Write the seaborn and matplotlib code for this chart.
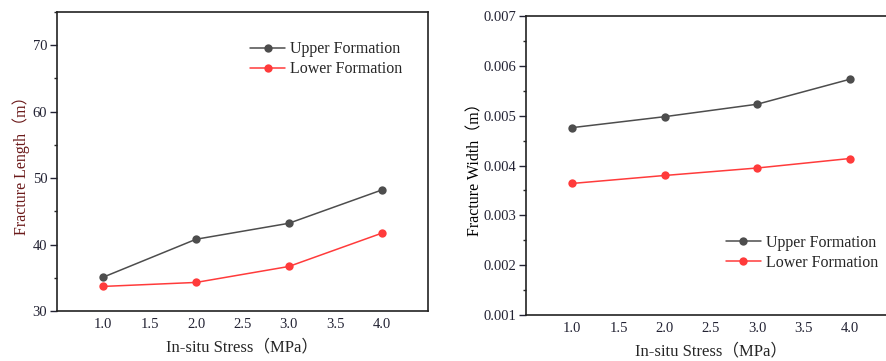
import numpy as np
import pandas as pd
import seaborn as sns
import matplotlib.pyplot as plt
from matplotlib.ticker import MultipleLocator

stress = [1.0, 2.0, 3.0, 4.0]
length_upper = [35.1, 40.8, 43.2, 48.2]
length_lower = [33.7, 34.3, 36.7, 41.7]
width_upper = [0.00476, 0.00498, 0.00523, 0.00573]
width_lower = [0.00364, 0.00380, 0.00395, 0.00414]
series = ['Upper Formation', 'Lower Formation']

sns.set_style('ticks')
plt.rcParams['font.family'] = ['Liberation Serif', 'Noto Sans CJK SC', 'DejaVu Sans']

def long_df(up, low):
    return pd.DataFrame({
        'x': stress * 2,
        'y': up + low,
        'series': [series[0]] * 4 + [series[1]] * 4,
    })

palette = {'Upper Formation': '#4d4d4d', 'Lower Formation': '#ff3b3b'}

fig = plt.figure(figsize=(8.86, 3.61), dpi=100)
ax1 = fig.add_axes([0.0643, 0.1385, 0.4187, 0.8283])
ax2 = fig.add_axes([0.5937, 0.1274, 0.4176, 0.8283])

sns.lineplot(data=long_df(length_upper, length_lower), x='x', y='y', hue='series',
             palette=palette, marker='o', markersize=6, markeredgewidth=0,
             linewidth=1.1, ax=ax1)
sns.lineplot(data=long_df(width_upper, width_lower), x='x', y='y', hue='series',
             palette=palette, marker='o', markersize=6, markeredgewidth=0,
             linewidth=1.1, ax=ax2)

ax1.set_ylim(30, 75)
ax1.yaxis.set_major_locator(MultipleLocator(10))
ax1.yaxis.set_minor_locator(MultipleLocator(5))
ax1.set_ylabel('Fracture Length（m）', fontsize=11.5, color='#6b1a1a')
ax1.yaxis.set_label_coords(-0.072, 0.5)

ax2.set_ylim(0.001, 0.007)
ax2.yaxis.set_major_locator(MultipleLocator(0.001))
ax2.yaxis.set_minor_locator(MultipleLocator(0.0005))
ax2.set_ylabel('Fracture Width（m）', fontsize=11.5, color='black')
ax2.yaxis.set_label_coords(-0.115, 0.5)
ax2.yaxis.set_major_formatter(plt.FormatStrFormatter('%.3f'))

for ax in (ax1, ax2):
    ax.set_xlim(0.5, 4.5)
    ax.set_xticks([1.0, 1.5, 2.0, 2.5, 3.0, 3.5, 4.0])
    ax.set_xticklabels(['1.0', '1.5', '2.0', '2.5', '3.0', '3.5', '4.0'])
    ax.set_xlabel('In-situ Stress（MPa）', fontsize=12, labelpad=6)
    ax.tick_params(axis='x', length=0, labelsize=10.5, colors='#222233', pad=5)
    ax.tick_params(axis='y', which='major', length=5, width=1, labelsize=10.5,
                   colors='#222233', direction='out', pad=2)
    ax.tick_params(axis='y', which='minor', length=2, width=1, direction='out')
    for s in ax.spines.values():
        s.set_visible(True)
        s.set_linewidth(1.2)
        s.set_color('#222222')

ax1.legend(title=None, loc='upper right', bbox_to_anchor=(0.97, 0.95), frameon=False,
           fontsize=11.5, handlelength=2.2, handletextpad=0.3, labelspacing=0.25)
ax2.legend(title=None, loc='lower right', bbox_to_anchor=(0.99, 0.1), frameon=False,
           fontsize=11.5, handlelength=2.2, handletextpad=0.3, labelspacing=0.25)

fig.savefig('out.png', dpi=100)
